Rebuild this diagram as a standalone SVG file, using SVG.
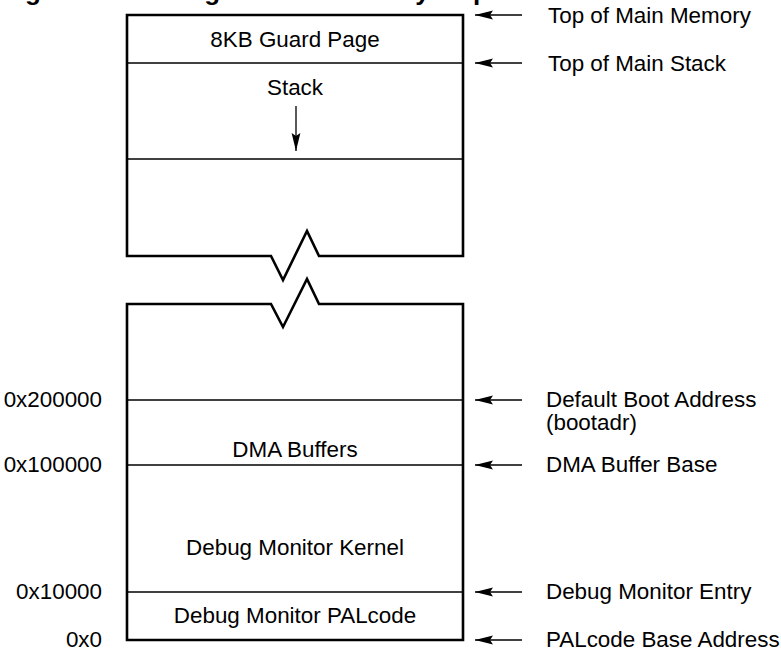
<svg xmlns="http://www.w3.org/2000/svg" width="781" height="654" viewBox="0 0 781 654">
  <style>
    .lbl { font-family: "Liberation Sans", Arial, sans-serif; font-size: 22.4px; fill: #000; }
    .mid { text-anchor: middle; }
    .end { text-anchor: end; }
    .title { font-family: "Liberation Sans", Arial, sans-serif; font-size: 26px; font-weight: bold; fill: #000; }
    .border { fill: none; stroke: #000; stroke-width: 2.6; stroke-linejoin: miter; }
    .div { fill: none; stroke: #000; stroke-width: 1.3; }
    .ptr { fill: none; stroke: #000; stroke-width: 1.3; marker-end: url(#head); }
  </style>
  <defs>
    <marker id="head" markerUnits="userSpaceOnUse" markerWidth="19" markerHeight="10" refX="18" refY="5" orient="auto">
      <path d="M0,0.6 L18,5 L0,9.4 L3,5 Z" fill="#000"/>
    </marker>
  </defs>
  <rect width="781" height="654" fill="#fff"/>

  <!-- figure caption, clipped by the page top -->
  <text class="title" x="2" y="-0.5">Figure 2–1 Debug Monitor Memory Map</text>

  <!-- upper part of memory: guard page and stack -->
  <g id="upper-region">
    <path class="border" d="M127,256 L127,15 L463,15 L463,256 L319,256 L307,231 L283,280 L271,256 Z"/>
    <line class="div" x1="127" y1="63" x2="463" y2="63"/>
    <line class="div" x1="127" y1="159" x2="463" y2="159"/>
  </g>
  <g id="guard-page">
    <text class="lbl mid" x="295" y="47">8KB Guard Page</text>
  </g>
  <g id="stack">
    <text class="lbl mid" x="295" y="95">Stack</text>
    <line class="ptr" x1="296" y1="106" x2="296" y2="151"/>
  </g>

  <!-- lower part of memory -->
  <g id="lower-region">
    <path class="border" d="M127,304 L271,304 L283,327 L307,279 L319,304 L463,304 L463,640 L127,640 Z"/>
    <line class="div" x1="127" y1="400" x2="463" y2="400"/>
    <line class="div" x1="127" y1="465" x2="463" y2="465"/>
    <line class="div" x1="127" y1="592" x2="463" y2="592"/>
  </g>
  <g id="dma-buffers">
    <text class="lbl mid" x="295" y="457">DMA Buffers</text>
  </g>
  <g id="debug-kernel">
    <text class="lbl mid" x="295" y="555">Debug Monitor Kernel</text>
  </g>
  <g id="debug-palcode">
    <text class="lbl mid" x="295" y="623">Debug Monitor PALcode</text>
  </g>

  <!-- address labels -->
  <g id="addresses">
    <text class="lbl end" x="102" y="407">0x200000</text>
    <text class="lbl end" x="102" y="472">0x100000</text>
    <text class="lbl end" x="102" y="599">0x10000</text>
    <text class="lbl end" x="102" y="647">0x0</text>
  </g>

  <!-- pointers from the boundary names to the map -->
  <g id="connectors">
    <line class="ptr" x1="522" y1="15" x2="475" y2="15"/>
    <line class="ptr" x1="522" y1="63" x2="475" y2="63"/>
    <line class="ptr" x1="522" y1="400" x2="475" y2="400"/>
    <line class="ptr" x1="522" y1="465" x2="475" y2="465"/>
    <line class="ptr" x1="522" y1="592" x2="475" y2="592"/>
    <line class="ptr" x1="522" y1="640" x2="475" y2="640"/>
  </g>

  <g id="boundary-names">
    <text class="lbl" x="548" y="23">Top of Main Memory</text>
    <text class="lbl" x="548" y="71">Top of Main Stack</text>
    <text class="lbl" x="546" y="407">Default Boot Address</text>
    <text class="lbl" x="546" y="430">(bootadr)</text>
    <text class="lbl" x="546" y="472">DMA Buffer Base</text>
    <text class="lbl" x="546" y="599">Debug Monitor Entry</text>
    <text class="lbl" x="546" y="647">PALcode Base Address</text>
  </g>
</svg>
